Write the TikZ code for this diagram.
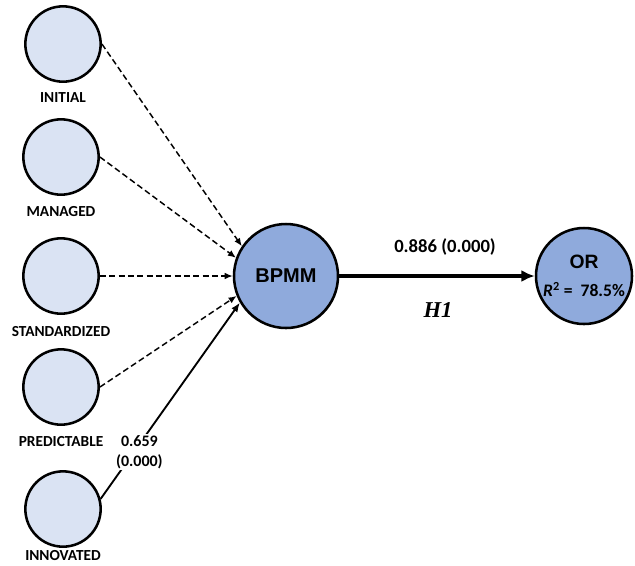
\documentclass[tikz,border=0pt]{standalone}
\usepackage{fontspec}
\setmainfont{Carlito}
\newfontfamily\arialfont{Liberation Sans}
\newfontfamily\timesfont{Liberation Serif}
\usetikzlibrary{arrows.meta,positioning,shadows}
\definecolor{lightblue}{HTML}{DAE3F3}
\definecolor{midblue}{HTML}{8FAADC}

\begin{document}
\begin{tikzpicture}[x=0.75pt, y=-0.75pt, every node/.style={font=\bfseries},
	level/.style={circle, draw, line width=1.9pt, fill=lightblue, minimum size=56.5pt, inner sep=0pt},
	levellabel/.style={font=\bfseries\fontsize{11.5}{13}\selectfont, inner sep=0pt},
	construct/.style={circle, draw, line width=1.9pt, fill=midblue, inner sep=0pt, align=center,
		drop shadow={shadow xshift=0.7pt, shadow yshift=-0.7pt, opacity=0.65}},
	dashline/.style={dashed, dash pattern=on 4.5pt off 2.5pt, line width=1.1pt, -{Latex[length=6pt, width=5pt]}},
	solidline/.style={line width=1.4pt, -{Latex[length=7pt, width=5.5pt]}},
	mainline/.style={line width=2.3pt, -{Latex[length=10pt, width=9pt]}}]

\useasboundingbox (0,0) rectangle (635,565);

% Maturity levels (left column)
\foreach \i/\x/\y/\ly/\name in {1/63/44/98/INITIAL, 2/61/157/212/MANAGED, 3/61/276/332/STANDARDIZED, 4/61/387/442/PREDICTABLE, 5/63/509/556/INNOVATED} {
	\node[level] (c\i) at (\x, \y) {};
	\node[levellabel] (l\i) at (\x, \ly) {\name};
}

% Constructs
\node[construct, minimum size=78pt, font=\arialfont\bfseries\fontsize{15}{17}\selectfont] (bpmm) at (286, 276) {BPMM};
\node[construct, minimum size=72pt] (or) at (584, 276)
	{{\arialfont\bfseries\fontsize{14.5}{16}\selectfont OR}\\[9pt]{\fontsize{13.2}{14}\selectfont\textit{R}\textsuperscript{2} =~ 78.5\%}};

% Paths from the levels to BPMM
\foreach \i/\a in {1/146, 2/160, 3/180, 4/202} {
	\draw[dashline] (c\i.east) -- (bpmm.\a);
}
\draw[solidline] (c5.15) -- node[pos=0.24, xshift=4pt, fill=white, inner sep=1pt, align=center, font=\bfseries\fontsize{12}{15}\selectfont] (w5) {0.659\\(0.000)} (bpmm.210);

% Structural path
\draw[mainline] (bpmm) -- (or);
\node[font=\bfseries\fontsize{14}{16}\selectfont] (b1) at (445, 247) {0.886 (0.000)};
\node[font=\timesfont\bfseries\itshape\fontsize{17}{19}\selectfont] (h1) at (438, 310) {H1};

\end{tikzpicture}
\end{document}
